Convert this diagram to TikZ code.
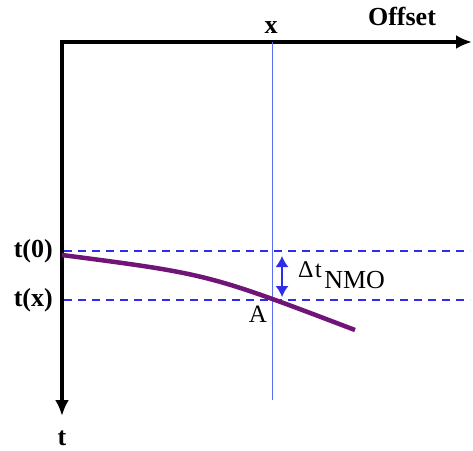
\documentclass[tikz,border=0pt]{standalone}
\usepackage{fontspec}
\setmainfont{Liberation Serif}
\usetikzlibrary{arrows.meta,positioning}
\definecolor{dashblue}{RGB}{45,45,235}
\definecolor{lineblue}{RGB}{90,110,240}
\definecolor{curvepurple}{RGB}{112,20,120}
\tikzstyle{axis}=[line width=4pt, -{Latex[length=16pt,width=14pt]}]
\tikzstyle{level}=[dashblue, line width=1.5pt, dash pattern=on 8pt off 6pt]
\tikzstyle{lbl}=[font=\fontsize{26}{26}\selectfont\bfseries, inner sep=0pt]

\begin{document}
\begin{tikzpicture}[x=1pt,y=-1pt]
\useasboundingbox (0,0) rectangle (473,450);
% axes
\coordinate (o) at (62,42);
\coordinate (xend) at (472,42);
\coordinate (tend) at (62,416);
\draw[axis] (60,42) -- (xend);
\draw[axis] (o) -- (tend);
\node [lbl, anchor=base] (off) at (402,25) {Offset};
\node [lbl, anchor=base] (xl) at (271,33) {x};
\node [lbl, anchor=base] (tl) at (62,445) {t};
% offset line
\coordinate (xtop) at (272,42);
\coordinate (xbot) at (272,400);
\draw[lineblue, line width=0.9pt] (xtop) -- (xbot);
% levels
\coordinate (z0) at (64,251);
\coordinate (z1) at (470,251);
\coordinate (w0) at (64,300);
\coordinate (w1) at (470,300);
\draw[level] (z0) -- (z1);
\draw[level] (w0) -- (w1);
\node [lbl, anchor=east] (t0) at (53,251) {t(0)};
\node [lbl, anchor=east] (tx) at (53,300) {t(x)};
% moveout curve
\coordinate (c0) at (62,255);
\coordinate (c1) at (355,330);
\draw[curvepurple, line width=4.5pt] (c0) .. controls (208,274) .. (c1);
\node [font=\fontsize{25}{25}\selectfont, inner sep=0pt, anchor=base] (a) at (258,322) {A};
% delta t
\coordinate (d0) at (282,256);
\coordinate (d1) at (282,297);
\draw[dashblue, line width=1.5pt, {Latex[length=11pt,width=13pt]}-{Latex[length=11pt,width=13pt]}] (d0) -- (d1);
\node [anchor=base west, inner sep=0pt] (dt) at (298,277) {\fontsize{24}{24}\selectfont Δ\kern1.5pt t\kern2.5pt\raisebox{-11pt}{\fontsize{26}{26}\selectfont NMO}};
\end{tikzpicture}
\end{document}
